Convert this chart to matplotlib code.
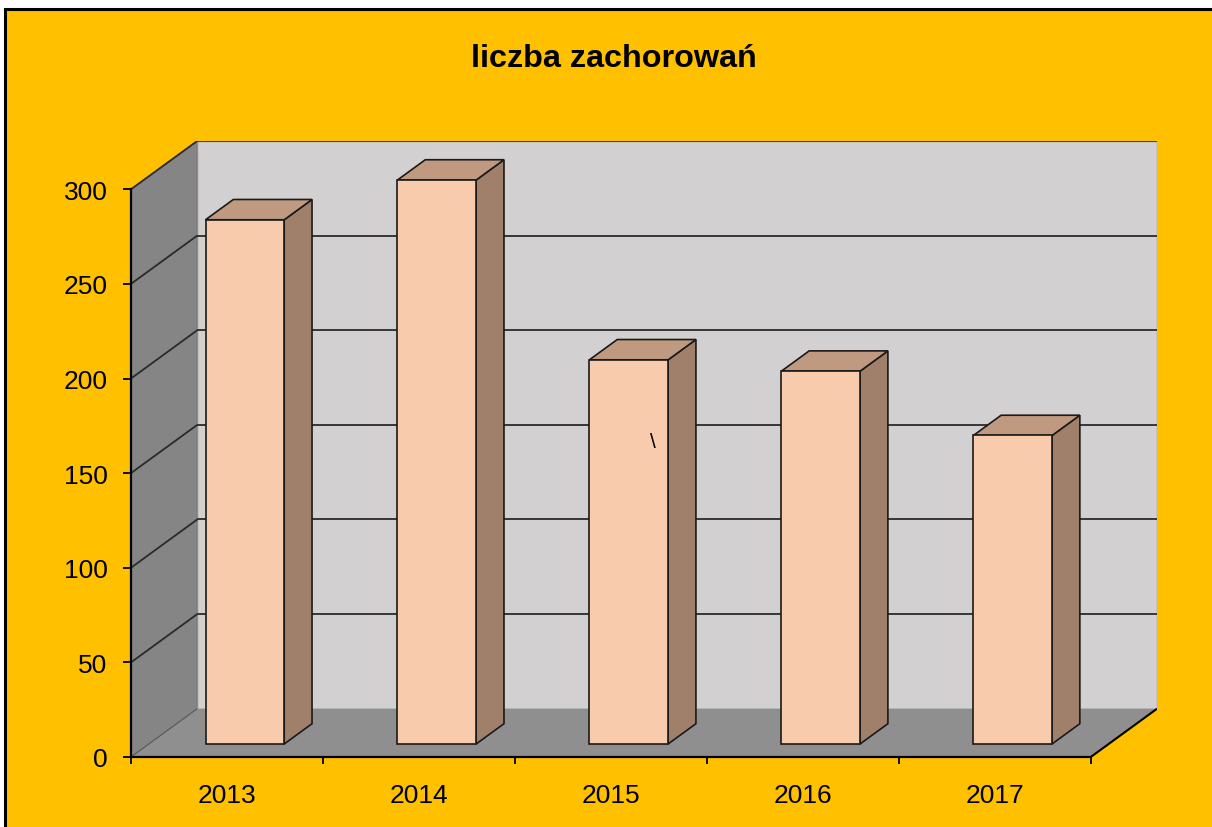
import matplotlib
matplotlib.use('Agg')
import matplotlib.pyplot as plt
from matplotlib.patches import Polygon, Rectangle

plt.rcParams['font.family'] = ['Liberation Sans', 'DejaVu Sans']

# data
years = ['2013', '2014', '2015', '2016', '2017']
cases = [277, 298, 203, 197, 163]
y_ticks = [0, 50, 100, 150, 200, 250, 300]
chart_title = 'liczba zachorowań'

# colours
GOLD = '#FFC000'
SIDE_WALL = '#858585'
BACK_WALL = '#D2D0D1'
FLOOR = '#8F8F8F'
BAR_FRONT = '#F8CBAD'
BAR_SIDE = '#A0806B'
BAR_TOP = '#C09A80'
GRID = '#2a2a2a'

# pseudo 3d geometry (in data units)
DEPTH_X = 0.345
DEPTH_Y = 25.5
Y_MAX = y_ticks[-1]
BAR_W = 0.41
F_FRONT = 0.27
F_BACK = 0.69
n = len(years)


def proj(x, y, d):
    # oblique projection, d goes from 0 (front) to 1 (back wall)
    return (x + d * DEPTH_X, y + d * DEPTH_Y)


def poly(ax, pts, fc, ec, lw, z):
    ax.add_patch(Polygon(pts, closed=True, fc=fc, ec=ec, lw=lw, zorder=z,
                         joinstyle='miter'))


def line(ax, p1, p2, color, lw, z):
    ax.plot([p1[0], p2[0]], [p1[1], p2[1]], color=color, lw=lw, zorder=z,
            solid_capstyle='butt')


fig = plt.figure(figsize=(12.12, 8.28), dpi=100, facecolor='white')

# gold chart area with black frame (only left and top edges are visible)
fig.patches.append(Rectangle((5 / 1212, -0.1), 1.2, 1 - 10 / 828 + 0.1,
                             transform=fig.transFigure, fc=GOLD, ec='black',
                             lw=2.2, zorder=-10))

ax = fig.add_axes([131 / 1212, (828 - 758) / 828,
                   (1157 - 131) / 1212, (758 - 142) / 828])
ax.patch.set_visible(False)
ax.set_xlim(0, n + DEPTH_X)
ax.set_ylim(0, Y_MAX + DEPTH_Y)

# walls and floor
poly(ax, [proj(0, 0, 0), proj(0, Y_MAX, 0), proj(0, Y_MAX, 1), proj(0, 0, 1)],
     SIDE_WALL, '#6e6e6e', 0.8, 1)
poly(ax, [proj(0, 0, 1), proj(n, 0, 1), proj(n, Y_MAX, 1), proj(0, Y_MAX, 1)],
     BACK_WALL, '#8c8c8c', 1.0, 1)
poly(ax, [proj(0, 0, 0), proj(n, 0, 0), proj(n, 0, 1), proj(0, 0, 1)],
     FLOOR, 'none', 0, 1)

# gridlines on side and back wall
for v in y_ticks[1:-1]:
    line(ax, proj(0, v, 0), proj(0, v, 1), GRID, 1.3, 1.5)
    line(ax, proj(0, v, 1), proj(n, v, 1), GRID, 1.3, 1.5)
line(ax, proj(0, Y_MAX, 0), proj(0, Y_MAX, 1), GRID, 1.3, 1.5)
line(ax, proj(0, Y_MAX, 1), proj(n, Y_MAX, 1), '#3a3a3a', 1.3, 1.5)
line(ax, proj(0, 0, 0), proj(0, 0, 1), '#5a5a5a', 0.8, 1.5)
line(ax, proj(n, 0, 0), proj(n, 0, 1), 'black', 1.5, 1.5)

# bars
for i, v in enumerate(cases):
    x0 = i + 0.5 - BAR_W / 2
    x1 = x0 + BAR_W
    poly(ax, [proj(x1, 0, F_FRONT), proj(x1, 0, F_BACK),
              proj(x1, v, F_BACK), proj(x1, v, F_FRONT)],
         BAR_SIDE, '#1a1a1a', 1.2, 2)
    poly(ax, [proj(x0, v, F_FRONT), proj(x1, v, F_FRONT),
              proj(x1, v, F_BACK), proj(x0, v, F_BACK)],
         BAR_TOP, '#1a1a1a', 1.2, 2)
    poly(ax, [proj(x0, 0, F_FRONT), proj(x1, 0, F_FRONT),
              proj(x1, v, F_FRONT), proj(x0, v, F_FRONT)],
         BAR_FRONT, '#1a1a1a', 1.2, 2)

# axes
for s in ['top', 'right']:
    ax.spines[s].set_visible(False)
ax.spines['left'].set_bounds(0, Y_MAX)
ax.spines['bottom'].set_bounds(0, n)
for s in ['left', 'bottom']:
    ax.spines[s].set_linewidth(1.6)
    ax.spines[s].set_zorder(3)

ax.set_yticks(y_ticks)
ax.set_yticklabels([str(t) for t in y_ticks])
ax.set_xticks(range(n + 1))
ax.set_xticklabels([''] * (n + 1))
ax.set_xticks([i + 0.5 for i in range(n)], minor=True)
ax.set_xticklabels(years, minor=True)
ax.tick_params(axis='y', direction='out', length=6, width=1.3,
               pad=11, labelsize=19)
ax.tick_params(axis='x', which='major', direction='out', length=5,
               width=1.3)
ax.tick_params(axis='x', which='minor', length=0, pad=19, labelsize=19)

fig.text(614 / 1212, 1 - 67 / 828, chart_title, ha='center', va='baseline',
         fontsize=23.3, fontweight='bold')
# stray character present on the original chart
fig.text(653 / 1212, 1 - 443 / 828, '\\', ha='center', va='center',
         fontsize=15)

fig.savefig('out.png', dpi=100, facecolor=fig.get_facecolor())
